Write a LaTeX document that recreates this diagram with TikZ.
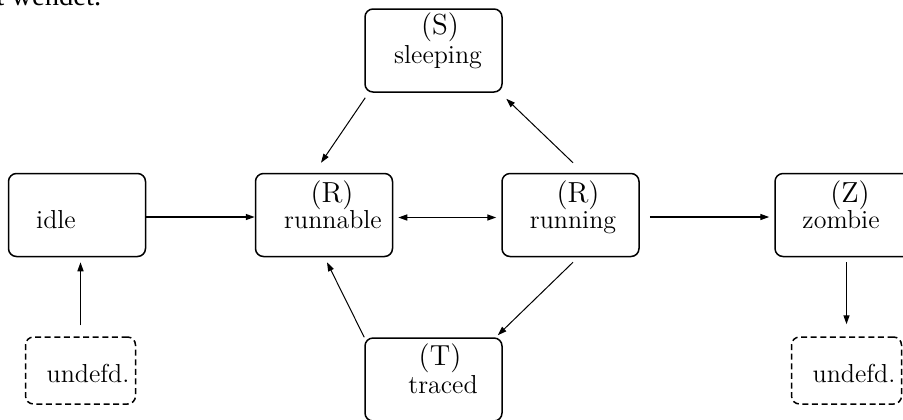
\documentclass[tikz,border=0pt]{standalone}
\usepackage{fontspec}
\newfontfamily\timesfont{Liberation Serif}
\usetikzlibrary{arrows.meta}

\tikzset{
  state/.style={draw, rounded corners=4pt, line width=0.75pt, inner sep=0pt,
                minimum width=68.5pt, minimum height=41.5pt},
  ghost/.style={state, dashed, dash pattern=on 3pt off 1.8pt,
                minimum width=55pt, minimum height=33.5pt},
  tagtext/.style={inner sep=0pt, anchor=base, font=\fontsize{14.5}{16}\selectfont},
  labeltext/.style={inner sep=0pt, anchor=base, font=\fontsize{13}{15}\selectfont},
  flow/.style={-{Triangle[length=4.5pt,width=3pt]}, line width=0.7pt},
  twoway/.style={{Triangle[length=4.5pt,width=3pt]}-{Triangle[length=4.5pt,width=3pt]}, line width=0.7pt},
  slant/.style={-{Triangle[length=4.5pt,width=3pt]}, line width=0.5pt},
}

\begin{document}
\begin{tikzpicture}[x=0.5pt, y=-0.5pt]
\useasboundingbox (0,0) rectangle (903,419);

% tail of the preceding sentence, running off the top edge
\node[inner sep=0pt, anchor=base west]
  (prose) at (-4,5.5) {\timesfont\fontsize{14.3pt}{16pt}\selectfont t wendet.};

% process states
\node[state] (sleeping) at (433.5,50.5) {};
\node[state] (idle)     at (77,215) {};
\node[state] (runnable) at (324,215) {};
\node[state] (running)  at (570.5,215) {};
\node[state] (zombie)   at (843.5,215) {};
\node[state] (traced)   at (433.5,379.5) {};
\node[ghost] (undefA)   at (80.5,370.5) {};
\node[ghost] (undefB)   at (846.5,370.5) {};

% state letters and names
\node[tagtext]   (sS) at (440,34)  {(S)};
\node[labeltext] (sN) at (438,63)  {sleeping};
\node[labeltext] (iN) at (56,228)  {idle};
\node[tagtext]   (rS) at (332,202) {(R)};
\node[labeltext] (rN) at (333,228) {runnable};
\node[tagtext]   (uS) at (578,202) {(R)};
\node[labeltext] (uN) at (573,228) {running};
\node[tagtext]   (zS) at (850,202) {(Z)};
\node[labeltext] (zN) at (841,228) {zombie};
\node[tagtext]   (tS) at (440,365) {(T)};
\node[labeltext] (tN) at (443,393) {traced};
\node[labeltext] (aN) at (88,382)  {undefd.};
\node[labeltext] (bN) at (854,382) {undefd.};

% horizontal and vertical transitions
\draw[flow] ([yshift=-1pt]idle.east) -- ([yshift=-1pt]runnable.west);
\draw[twoway, shorten <=2.5pt, shorten >=2.5pt]
  ([yshift=-1.25pt]runnable.east) -- ([yshift=-1.25pt]running.west);
\draw[flow, shorten <=5pt, shorten >=2.5pt]
  ([yshift=-1pt]running.east) -- ([yshift=-1pt]zombie.west);
\draw[flow, shorten <=5.5pt, shorten >=2.5pt]
  (undefA.north) -- (undefA.north |- idle.south);
\draw[flow, shorten <=2.5pt, shorten >=6pt]
  (zombie.south -| undefB.north) -- (undefB.north);

% diagonal transitions
\draw[slant] ([shift={(0.5pt,-2.5pt)}]sleeping.south west) -- ([shift={(-1.5pt,5pt)}]runnable.north);
\draw[slant] ([shift={(1.25pt,5pt)}]running.north) -- ([shift={(1.75pt,-3pt)}]sleeping.south east);
\draw[slant] ([shift={(1.25pt,-2.5pt)}]running.south) -- ([shift={(-2.5pt,1pt)}]traced.north east);
\draw[slant] (traced.north west) -- ([shift={(1.5pt,-2.5pt)}]runnable.south);
\end{tikzpicture}
\end{document}
